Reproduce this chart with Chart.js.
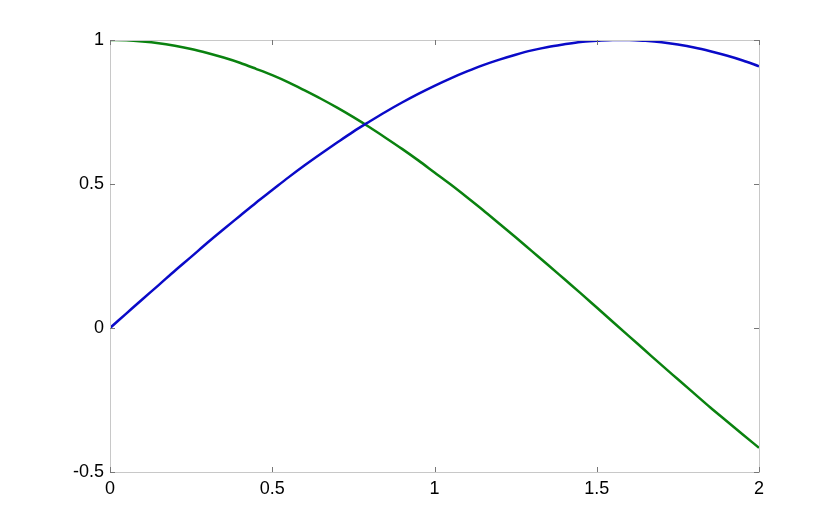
<!DOCTYPE html>
<html>
<head>
<meta charset="utf-8">
<script src="https://cdn.jsdelivr.net/npm/chart.js@4/dist/chart.umd.min.js"></script>
<style>
html,body{margin:0;padding:0;background:#fff;}
#wrap{width:840px;height:531px;position:relative;}
</style>
</head>
<body>
<div id="wrap"><canvas id="c" width="840" height="531"></canvas></div>
<script>
const xValues = [0,0.05,0.1,0.15,0.2,0.25,0.3,0.35,0.4,0.45,0.5,0.55,0.6,0.65,0.7,0.75,0.8,0.85,0.9,0.95,1.0,
  1.05,1.1,1.15,1.2,1.25,1.3,1.35,1.4,1.45,1.5,1.55,1.6,1.65,1.7,1.75,1.8,1.85,1.9,1.95,2.0];
const blueSeries = [0.000,0.050,0.100,0.149,0.199,0.247,0.296,0.343,0.389,0.435,0.479,0.523,0.565,0.605,0.644,0.682,0.717,0.751,0.783,0.813,0.841,
  0.867,0.891,0.913,0.932,0.949,0.964,0.976,0.985,0.993,0.997,1.000,1.000,0.997,0.992,0.984,0.974,0.961,0.946,0.929,0.909];
const greenSeries = [1.000,0.999,0.995,0.989,0.980,0.969,0.955,0.939,0.921,0.900,0.878,0.853,0.825,0.796,0.765,0.732,0.697,0.660,0.622,0.582,0.540,
  0.498,0.454,0.409,0.362,0.315,0.267,0.219,0.170,0.121,0.071,0.021,-0.029,-0.079,-0.129,-0.178,-0.227,-0.276,-0.323,-0.370,-0.416];
const xTicks = [0,0.5,1,1.5,2];
const yTicks = [-0.5,0,0.5,1];

const toPts = (ys) => ys.map((y,i) => ({x: xValues[i], y: y}));

const boxPlugin = {
  id: 'box',
  afterDraw(chart) {
    const {ctx, chartArea: a, scales} = chart;
    ctx.save();
    ctx.strokeStyle = '#c8c8c8';
    ctx.lineWidth = 1;
    ctx.strokeRect(Math.round(a.left)+0.5, Math.round(a.top)+0.5, Math.round(a.right-a.left), Math.round(a.bottom-a.top));
    ctx.strokeStyle = '#777';
    const tl = 5;
    xTicks.forEach(v => {
      const x = Math.round(scales.x.getPixelForValue(v))+0.5;
      ctx.beginPath(); ctx.moveTo(x, a.bottom); ctx.lineTo(x, a.bottom-tl); ctx.stroke();
      ctx.beginPath(); ctx.moveTo(x, a.top); ctx.lineTo(x, a.top+tl); ctx.stroke();
    });
    yTicks.forEach(v => {
      const y = Math.round(scales.y.getPixelForValue(v))+0.5;
      ctx.beginPath(); ctx.moveTo(a.left, y); ctx.lineTo(a.left+tl, y); ctx.stroke();
      ctx.beginPath(); ctx.moveTo(a.right, y); ctx.lineTo(a.right-tl, y); ctx.stroke();
    });
    ctx.restore();
  }
};

const fmt = (v) => String(v);

new Chart(document.getElementById('c'), {
  type: 'line',
  data: {
    datasets: [
      {data: toPts(blueSeries), borderColor: '#0a0ac8', borderWidth: 2.5, pointRadius: 0, cubicInterpolationMode: 'monotone', fill: false},
      {data: toPts(greenSeries), borderColor: '#0a820f', borderWidth: 2.5, pointRadius: 0, cubicInterpolationMode: 'monotone', fill: false}
    ]
  },
  options: {
    responsive: false,
    animation: false,
    layout: {padding: {left: 0, right: 81, top: 40, bottom: 0}},
    plugins: {legend: {display: false}, tooltip: {enabled: false}},
    scales: {
      x: {
        type: 'linear', min: 0, max: 2,
        afterBuildTicks: (s) => { s.ticks = xTicks.map(v => ({value: v})); },
        afterFit: (s) => { s.height = 59; },
        grid: {display: false, drawTicks: false},
        border: {display: false},
        ticks: {color: '#000', font: {family: 'Liberation Sans, Arial, sans-serif', size: 18}, padding: 6, maxRotation: 0, autoSkip: false, callback: fmt}
      },
      y: {
        type: 'linear', min: -0.5, max: 1,
        afterBuildTicks: (s) => { s.ticks = yTicks.map(v => ({value: v})); },
        afterFit: (s) => { s.width = 110; },
        grid: {display: false, drawTicks: false},
        border: {display: false},
        ticks: {color: '#000', font: {family: 'Liberation Sans, Arial, sans-serif', size: 18}, padding: 6, callback: fmt}
      }
    }
  },
  plugins: [boxPlugin]
});
</script>
</body>
</html>
